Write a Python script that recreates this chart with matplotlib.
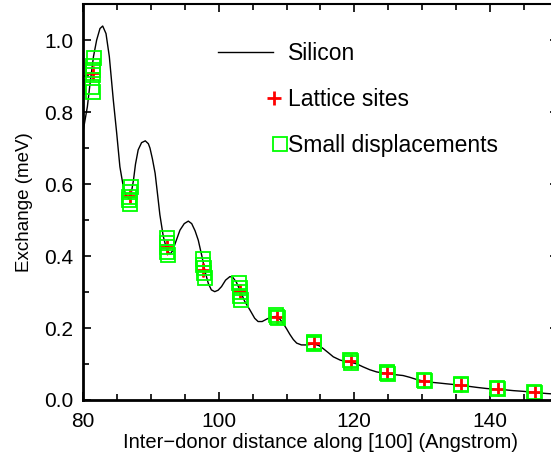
import matplotlib
matplotlib.use("Agg")
import matplotlib.pyplot as plt
from matplotlib.legend_handler import HandlerLine2DCompound

plt.rcParams['font.family'] = ['Liberation Sans', 'DejaVu Sans']

# Silicon curve
si_x = [80.0, 80.6, 81.0, 81.5, 81.97, 82.46, 82.86, 83.35, 83.84, 84.43, 84.93,
        85.4, 85.9, 86.3, 86.7, 87.05, 87.4, 87.7, 88.1, 88.6, 89.15, 89.6, 89.84,
        90.2, 90.6, 91.0, 91.3, 91.8, 92.3, 92.8, 93.2, 93.6, 94.27, 94.9, 95.5,
        96.0, 96.5, 96.97, 97.5, 98.0, 98.45, 98.9, 99.4, 99.9, 100.4, 101.0,
        101.65, 102.1, 102.6, 103.2, 103.8, 104.6, 105.3, 105.8, 106.4, 107.1,
        107.8, 108.5, 109.0, 109.5, 110.0, 110.5, 111.0, 111.5, 112.2, 113.0,
        114.0, 114.8, 115.4, 116.2, 116.9, 117.9, 118.7, 119.5, 120.4, 121.3,
        122.3, 123.3, 124.3, 125.2, 126.2, 127.2, 128.2, 129.2, 130.3, 131.5,
        132.6, 133.6, 134.7, 135.7, 136.9, 138.1, 139.5, 141.2, 142.4, 143.5,
        145.0, 146.6, 148.4, 150.0]
si_y = [0.75, 0.815, 0.88, 0.954, 1.0, 1.032, 1.039, 1.018, 0.954, 0.833, 0.741,
        0.648, 0.593, 0.568, 0.560, 0.572, 0.61, 0.655, 0.695, 0.715, 0.72, 0.712,
        0.70, 0.67, 0.63, 0.565, 0.515, 0.455, 0.418, 0.405, 0.415, 0.437, 0.472,
        0.49, 0.497, 0.49, 0.47, 0.444, 0.40, 0.355, 0.324, 0.306, 0.301, 0.305,
        0.315, 0.333, 0.343, 0.34, 0.327, 0.302, 0.275, 0.25, 0.227, 0.218, 0.218,
        0.225, 0.231, 0.232, 0.225, 0.213, 0.198, 0.182, 0.168, 0.158, 0.153,
        0.153, 0.156, 0.151, 0.143, 0.131, 0.12, 0.111, 0.107, 0.105, 0.1, 0.092,
        0.084, 0.078, 0.075, 0.073, 0.07, 0.068, 0.063, 0.057, 0.052, 0.049,
        0.047, 0.045, 0.043, 0.041, 0.038, 0.035, 0.032, 0.029, 0.028, 0.026,
        0.024, 0.021, 0.018, 0.016]

# lattice sites
lat_x = [81.45, 86.88, 92.31, 97.74, 103.17, 108.60, 114.03, 119.46, 124.89,
         130.32, 135.75, 141.18, 146.61]
lat_y = [0.909, 0.566, 0.424, 0.362, 0.303, 0.231, 0.159, 0.107, 0.075,
         0.054, 0.042, 0.031, 0.021]
lat_err = [0.02] * 13

# small displacements
sd_x = [81.6, 81.5, 81.5, 81.4, 81.3, 81.4,
        87.0, 86.9, 86.8, 86.8, 86.9,
        92.3, 92.4, 92.3, 92.4, 92.5,
        97.6, 97.7, 97.8, 97.8, 97.9,
        103.0, 103.1, 103.2, 103.2, 103.3,
        108.5, 108.6, 108.7,
        114.0, 114.1, 114.0,
        119.4, 119.5, 119.5,
        124.8, 124.9, 125.0,
        130.3, 130.4,
        135.7, 135.8,
        141.1, 141.2,
        146.6, 146.7]
sd_y = [0.949, 0.929, 0.917, 0.903, 0.869, 0.857,
        0.593, 0.579, 0.565, 0.556, 0.544,
        0.449, 0.437, 0.424, 0.412, 0.403,
        0.391, 0.375, 0.366, 0.352, 0.340,
        0.324, 0.310, 0.301, 0.289, 0.279,
        0.235, 0.231, 0.227,
        0.162, 0.159, 0.156,
        0.110, 0.107, 0.104,
        0.078, 0.075, 0.072,
        0.056, 0.052,
        0.044, 0.041,
        0.033, 0.030,
        0.023, 0.019]


class RightMarker(HandlerLine2DCompound):
    # put the legend marker near the right end of the handle
    def __init__(self, offset, **kw):
        self.offset = offset
        super().__init__(**kw)

    def get_xdata(self, legend, xdescent, ydescent, width, height, fontsize):
        xd, xm = super().get_xdata(legend, xdescent, ydescent, width, height, fontsize)
        return xd, [width - xdescent - self.offset]


fig = plt.figure(figsize=(5.51, 4.62), dpi=100)
ax = fig.add_axes([0.1512, 0.1342, 0.8606, 0.857])

l_si, = ax.plot(si_x, si_y, color='black', lw=1.0, label='Silicon')
ax.errorbar(lat_x, lat_y, yerr=lat_err, fmt='none', ecolor='red', elinewidth=0.8)
l_lat, = ax.plot(lat_x, lat_y, '+', color='red', ms=10, mew=2.0, ls='none',
                 label='Lattice sites')
l_sd, = ax.plot(sd_x, sd_y, 's', mfc='none', mec='lime', ms=10, mew=1.3,
                ls='none', label='Small displacements')

ax.set_xlim(80, 150)
ax.set_ylim(0, 1.1)
ax.set_xticks([80, 100, 120, 140])
ax.set_xticks(range(80, 151, 5), minor=True)
ax.set_yticks([0.0, 0.2, 0.4, 0.6, 0.8, 1.0])
ax.set_yticks([0.1 * i for i in range(12)], minor=True)
ax.set_yticklabels(['0.0', '0.2', '0.4', '0.6', '0.8', '1.0'])
ax.tick_params(which='both', direction='in', top=True, right=True,
               labelsize=15, width=1.2)
ax.tick_params(which='major', length=6, pad=7)
ax.tick_params(axis='x', which='major', pad=9)
ax.tick_params(which='minor', length=4)
ax.tick_params(axis='y', which='minor', right=False)
for s in ['left', 'bottom']:
    ax.spines[s].set_linewidth(2.0)
ax.spines['top'].set_linewidth(1.5)
ax.spines['right'].set_linewidth(1.5)

ax.set_xlabel('Inter\u2212donor distance along [100] (Angstrom)', fontsize=14.5,
              labelpad=1)
ax.set_ylabel('Exchange (meV)', fontsize=13.5, labelpad=8)

ax.legend(handles=[l_si, l_lat, l_sd], frameon=False, fontsize=16.5,
          loc='upper left', bbox_to_anchor=(218 / 551, 1 - 42 / 462),
          bbox_transform=fig.transFigure, borderpad=0, borderaxespad=0,
          handlelength=2.4, handletextpad=0.65, labelspacing=1.0,
          handler_map={l_lat: RightMarker(-0.5, numpoints=1),
                       l_sd: RightMarker(-4.8, numpoints=1)})

fig.savefig('out.png', dpi=100)
